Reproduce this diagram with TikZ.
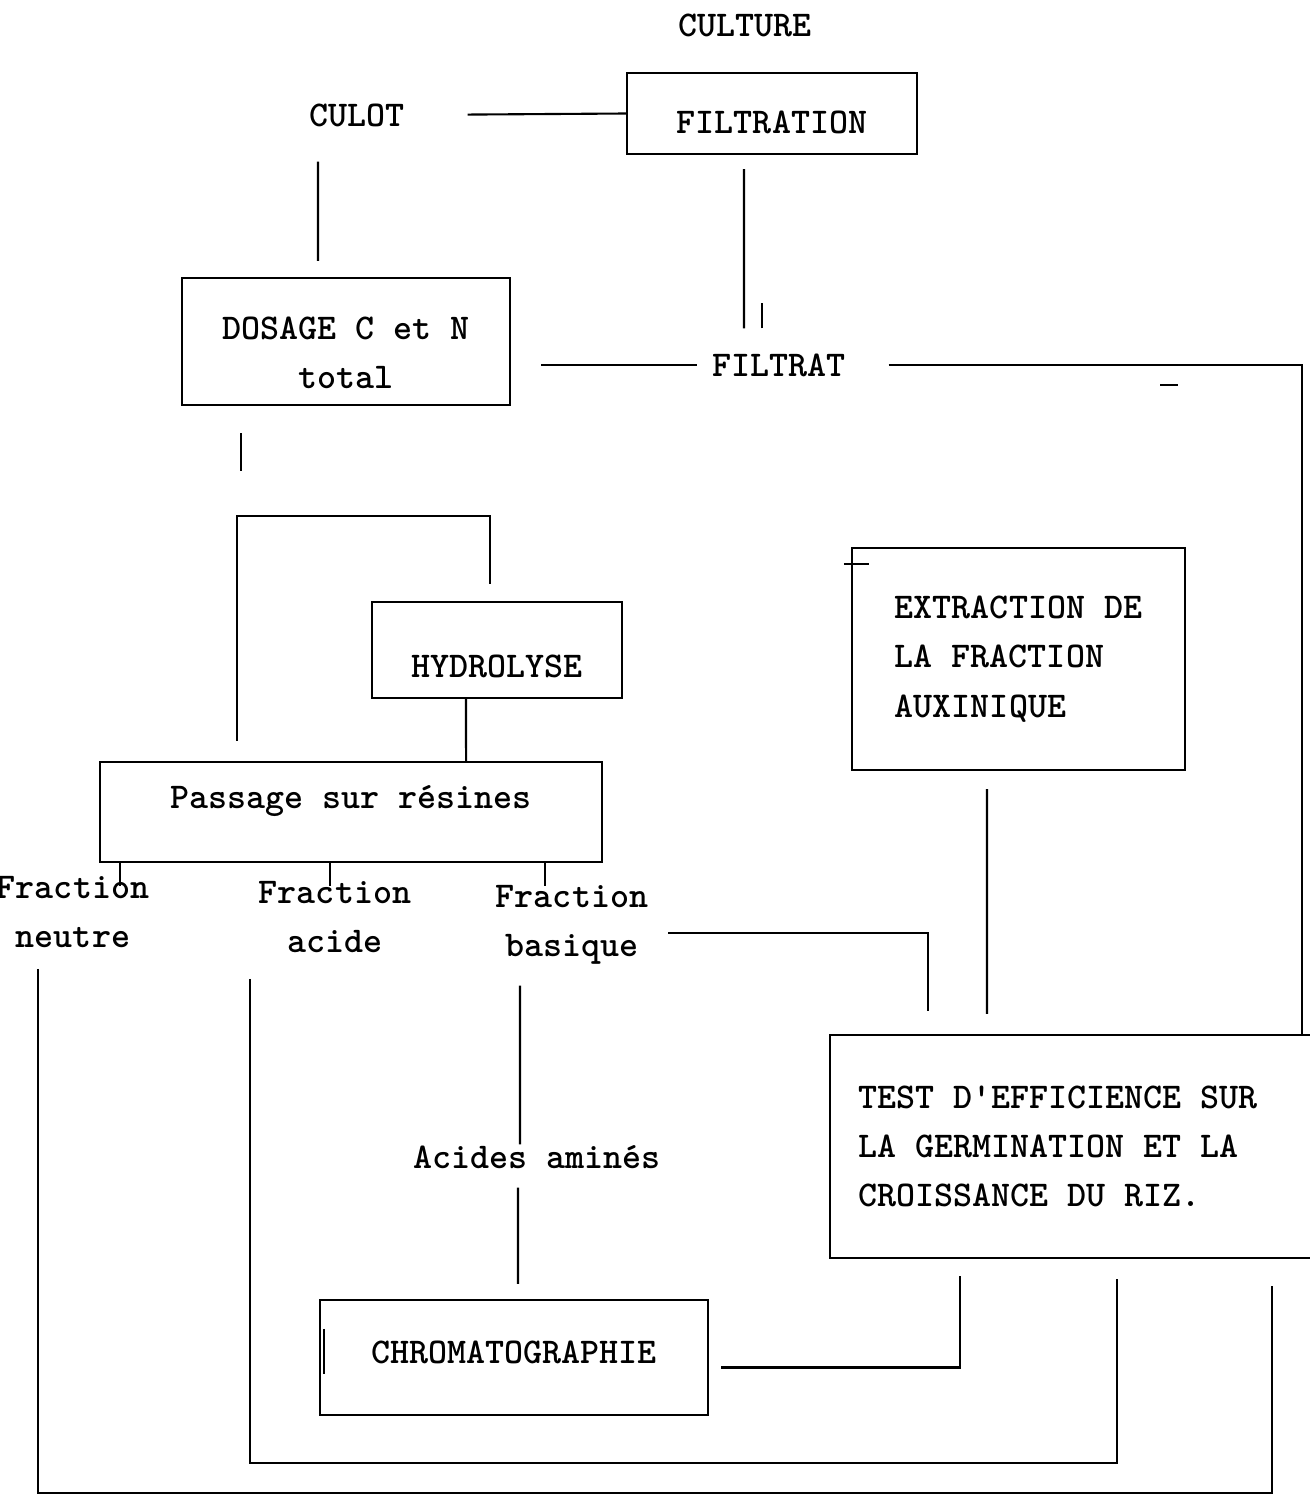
\documentclass[tikz,border=0pt]{standalone}
\usetikzlibrary{calc}
\newcommand{\tw}{\ttfamily\bfseries\fontsize{10.3}{14}\selectfont}
\tikzset{
  lbl/.style={font=\tw, inner sep=0pt, align=center},
  boite/.style={draw, font=\tw, inner sep=0pt, align=center},
}

\begin{document}
\begin{tikzpicture}[x=0.01cm, y=-0.01cm, line width=0.6pt]
\useasboundingbox (0,0) rectangle (1309,1506);

\node[lbl] (cult) at (745,25) {CULTURE};
\node[lbl] (culot) at (357,115) {CULOT};
\node[boite, minimum width=2.9cm, minimum height=0.81cm, text height=11.5pt, text depth=0pt] (filt) at (772,113.5) {FILTRATION};
\node[boite, minimum width=3.28cm, minimum height=1.27cm, text height=26.6pt, text depth=0pt] (dos) at (346,341.5) {DOSAGE C et N\\total};
\node[lbl] (filtrat) at (779,365) {FILTRAT};
\node[boite, minimum width=2.5cm, minimum height=0.96cm, text height=15.9pt, text depth=0pt] (hyd) at (497,650) {HYDROLYSE};
\node[boite, minimum width=5.02cm, minimum height=1cm, text height=7pt, text depth=9.1pt] (pas) at (351,812) {Passage sur résines};
\node[lbl] (fneu) at (73,912) {Fraction\\neutre};
\node[lbl] (faci) at (335,917) {Fraction\\acide};
\node[lbl] (fbas) at (572,925) {Fraction\\basique};
\node[boite, align=left, minimum width=3.33cm, minimum height=2.22cm] (ext) at (1018.5,659) {EXTRACTION DE\\LA FRACTION\\AUXINIQUE};
\node[boite, align=left, minimum width=4.9cm, minimum height=2.23cm] (test) at (1075,1146.5) {TEST D'EFFICIENCE SUR\hspace*{0.34cm}\\LA GERMINATION ET LA\\CROISSANCE DU RIZ.};
\node[lbl] (ami) at (537,1157) {Acides aminés};
\node[boite, minimum width=3.88cm, minimum height=1.15cm, text height=6.3pt, text depth=2.8pt] (chro) at (514,1357.5) {CHROMATOGRAPHIE};

\draw[shorten <=0.62cm] (culot.east) -- (filt.west);
\draw[shorten <=0.34cm, shorten >=0.16cm] ([xshift=-0.39cm]culot.south) -- ([xshift=-0.28cm]dos.north);
\draw[shorten <=0.14cm, shorten >=0.24cm] ([xshift=-0.28cm]filt.south) -- ([xshift=-0.35cm]filtrat.north);
\draw ([xshift=-0.17cm,yshift=0.24cm]filtrat.north) -- ++(0,-25);
\draw[shorten <=0.30cm, shorten >=0.14cm] (dos.east |- filtrat.west) -- (filtrat.west);
\draw[shorten <=0.42cm] (filtrat.east) -| ([xshift=2.27cm]test.north);
\draw ([xshift=3.81cm,yshift=-0.2cm]filtrat.center) -- ++(18,0);

\draw ([xshift=-1.05cm,yshift=-0.27cm]dos.south) -- ++(0,38);
\draw[shorten <=0.17cm, shorten >=0.2cm] ([xshift=-0.07cm]hyd.north) -- ++(0,-85) -| ([xshift=-1.14cm]pas.north);
\draw ([xshift=-0.31cm]hyd.south) -- ([xshift=1.15cm]pas.north);
\foreach \f/\dx in {fneu/0.47, faci/-0.05, fbas/-0.27}
  \draw ([xshift=\dx cm]\f.north |- pas.south) -- ++(0,23);

\draw ([xshift=-0.07cm,yshift=-0.17cm]ext.north west) -- ++(25,0);
\draw[shorten <=0.19cm, shorten >=0.23cm] ([yshift=-0.08cm]fbas.east) -| ([xshift=-1.47cm]test.north);
\draw[shorten <=0.18cm, shorten >=0.2cm] ([xshift=-0.315cm]ext.south) -- ([xshift=-0.88cm]test.north);

\draw[shorten <=0.2cm] ([xshift=-0.52cm]fbas.south) -- ([xshift=-0.17cm]ami.north);
\draw[shorten <=0.18cm, shorten >=0.15cm] ([xshift=-0.19cm]ami.south) -- ([xshift=0.04cm]chro.north);
\draw ([xshift=0.05cm,yshift=-0.3cm]chro.north west) -- ++(0,45);
\draw[shorten <=0.12cm, shorten >=0.17cm] ([yshift=-0.1cm]chro.east) -| ([xshift=-1.15cm]test.south);

\draw[shorten <=0.25cm, shorten >=0.2cm] ([xshift=-0.85cm]faci.south) |- ([xshift=0.42cm,yshift=-2.04cm]test.south) -- ([xshift=0.42cm]test.south);
\draw[shorten <=0.2cm, shorten >=0.27cm] ([xshift=-0.35cm]fneu.south) |- ([xshift=1.97cm,yshift=-2.34cm]test.south) -- ([xshift=1.97cm]test.south);
\end{tikzpicture}
\end{document}
